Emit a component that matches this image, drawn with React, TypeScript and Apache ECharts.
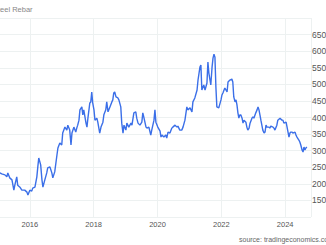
import { useEffect, useRef } from "react";
import * as echarts from "echarts";

// dates as decimal years
const years = [
  2015.06, 2015.12, 2015.22, 2015.28, 2015.31, 2015.37, 2015.44, 2015.5, 2015.53, 2015.59,
  2015.62, 2015.69, 2015.75, 2015.78, 2015.84, 2015.91, 2015.94, 2016.0, 2016.06, 2016.09,
  2016.16, 2016.22, 2016.25, 2016.28, 2016.34, 2016.38, 2016.41, 2016.47, 2016.53, 2016.56,
  2016.63, 2016.69, 2016.72, 2016.78, 2016.85, 2016.88, 2016.94, 2017.0, 2017.03, 2017.1,
  2017.16, 2017.19, 2017.25, 2017.29, 2017.32, 2017.38, 2017.44, 2017.47, 2017.5, 2017.54,
  2017.57, 2017.63, 2017.66, 2017.69, 2017.76, 2017.79, 2017.82, 2017.88, 2017.91, 2017.94,
  2017.97, 2018.01, 2018.04, 2018.1, 2018.13, 2018.19, 2018.23, 2018.29, 2018.32, 2018.38,
  2018.41, 2018.45, 2018.51, 2018.57, 2018.6, 2018.63, 2018.66, 2018.7, 2018.76, 2018.79,
  2018.85, 2018.88, 2018.92, 2018.95, 2019.01, 2019.04, 2019.1, 2019.17, 2019.2, 2019.26,
  2019.32, 2019.35, 2019.39, 2019.45, 2019.51, 2019.54, 2019.57, 2019.64, 2019.67, 2019.73,
  2019.79, 2019.82, 2019.89, 2019.92, 2019.95, 2020.01, 2020.08, 2020.11, 2020.14, 2020.2,
  2020.26, 2020.29, 2020.33, 2020.39, 2020.45, 2020.48, 2020.55, 2020.61, 2020.64, 2020.7,
  2020.76, 2020.8, 2020.86, 2020.92, 2020.95, 2021.02, 2021.08, 2021.11, 2021.17, 2021.24,
  2021.27, 2021.33, 2021.36, 2021.39, 2021.45, 2021.49, 2021.55, 2021.58, 2021.61, 2021.67,
  2021.71, 2021.74, 2021.77, 2021.8, 2021.83, 2021.86, 2021.92, 2021.99, 2022.02, 2022.05,
  2022.11, 2022.18, 2022.21, 2022.27, 2022.33, 2022.36, 2022.39, 2022.43, 2022.46, 2022.49,
  2022.52, 2022.55, 2022.58, 2022.61, 2022.65, 2022.68, 2022.71, 2022.77, 2022.8, 2022.83,
  2022.87, 2022.9, 2022.96, 2022.99, 2023.02, 2023.08, 2023.12, 2023.15, 2023.18, 2023.21,
  2023.24, 2023.27, 2023.3, 2023.34, 2023.37, 2023.4, 2023.43, 2023.49, 2023.52, 2023.55,
  2023.62, 2023.65, 2023.68, 2023.74, 2023.77, 2023.84, 2023.9, 2023.93, 2023.96, 2024.03,
  2024.06, 2024.09, 2024.12, 2024.15, 2024.18, 2024.21, 2024.24, 2024.31, 2024.34, 2024.37,
  2024.43, 2024.46, 2024.49, 2024.53, 2024.56, 2024.59, 2024.62, 2024.65, 2024.68,
];

const values = [
  233, 230, 227, 221, 233, 218, 212, 181, 196, 221,
  196, 190, 181, 181, 181, 175, 166, 181, 178, 187,
  190, 221, 251, 278, 257, 212, 190, 212, 233, 248,
  251, 233, 218, 236, 287, 308, 323, 317, 353, 371,
  362, 377, 362, 317, 353, 371, 356, 368, 377, 392,
  423, 432, 408, 423, 383, 371, 398, 444, 447, 477,
  444, 423, 392, 398, 386, 353, 371, 386, 408, 423,
  447, 417, 432, 447, 453, 474, 477, 462, 459, 453,
  432, 383, 353, 377, 362, 383, 371, 383, 377, 414,
  417, 398, 383, 377, 386, 414, 402, 371, 368, 371,
  347, 362, 392, 423, 386, 371, 359, 341, 347, 341,
  347, 338, 356, 353, 368, 371, 377, 371, 374, 362,
  362, 371, 392, 432, 423, 429, 417, 447, 459, 483,
  513, 552, 558, 483, 498, 483, 504, 567, 534, 498,
  552, 579, 591, 582, 492, 432, 429, 453, 468, 474,
  489, 477, 507, 513, 516, 507, 462, 447, 453, 438,
  414, 398, 408, 408, 398, 383, 392, 386, 371, 362,
  368, 383, 398, 402, 398, 414, 423, 432, 423, 408,
  392, 377, 362, 353, 356, 377, 371, 371, 368, 374,
  371, 368, 362, 377, 392, 398, 392, 392, 383, 386,
  371, 356, 341, 353, 356, 356, 353, 356, 347, 341,
  332, 326, 317, 302, 296, 311, 302, 308, 311,
];

const titleText = "Steel Rebar";
const sourceText = "source: tradingeconomics.com";

// the chart is wider than the page and shifted left, so the page crops it like the reference
const SHIFT = 34;

export default function App() {
  const ref = useRef<HTMLDivElement>(null);
  useEffect(() => {
    if (!ref.current) return;
    const chart = echarts.init(ref.current, null, { renderer: "svg" });
    const data = years.map((y, i) => [y, values[i]]);
    chart.setOption({
      animation: false,
      textStyle: { fontFamily: "Liberation Sans, Arial, sans-serif" },
      grid: { left: 0, right: 15, top: 18, bottom: 28, containLabel: false, outerBoundsMode: "none" },
      xAxis: {
        type: "value",
        min: 2014,
        max: 2024.81,
        interval: 2,
        axisLine: { show: false },
        axisTick: { show: false },
        axisLabel: {
          color: "#555",
          fontSize: 7.5,
          margin: 3,
          formatter: (v: number) => (Number.isInteger(v) && v % 2 === 0 && v > 2014 ? String(v) : ""),
        },
        splitLine: { show: true, lineStyle: { color: "#edf1f1", width: 1 } },
      },
      yAxis: {
        type: "value",
        position: "right",
        min: 100,
        max: 700,
        interval: 50,
        axisLine: { show: false },
        axisTick: { show: false },
        axisLabel: {
          color: "#555",
          fontSize: 8.5,
          margin: 1,
          showMinLabel: false,
          showMaxLabel: false,
        },
        splitLine: { show: true, lineStyle: { color: "#edf1f1", width: 1 } },
      },
      graphic: [
        {
          type: "text",
          x: SHIFT - 7,
          y: 5,
          style: { text: titleText, fontSize: 7.5, fill: "#888", fontFamily: "Liberation Sans, Arial, sans-serif" },
        },
        {
          type: "text",
          x: SHIFT + 239,
          y: 236,
          style: { text: sourceText, fontSize: 7, fill: "#666", fontFamily: "Liberation Sans, Arial, sans-serif" },
        },
      ],
      series: [
        {
          type: "line",
          data,
          showSymbol: false,
          symbol: "none",
          lineStyle: { color: "#3b6fe8", width: 1.4 },
        },
      ],
    });
    return () => chart.dispose();
  }, []);
  return (
    <div
      ref={ref}
      style={{ width: 326 + SHIFT, height: 245, position: "fixed", left: -SHIFT, top: 0, background: "#fff" }}
    />
  );
}
